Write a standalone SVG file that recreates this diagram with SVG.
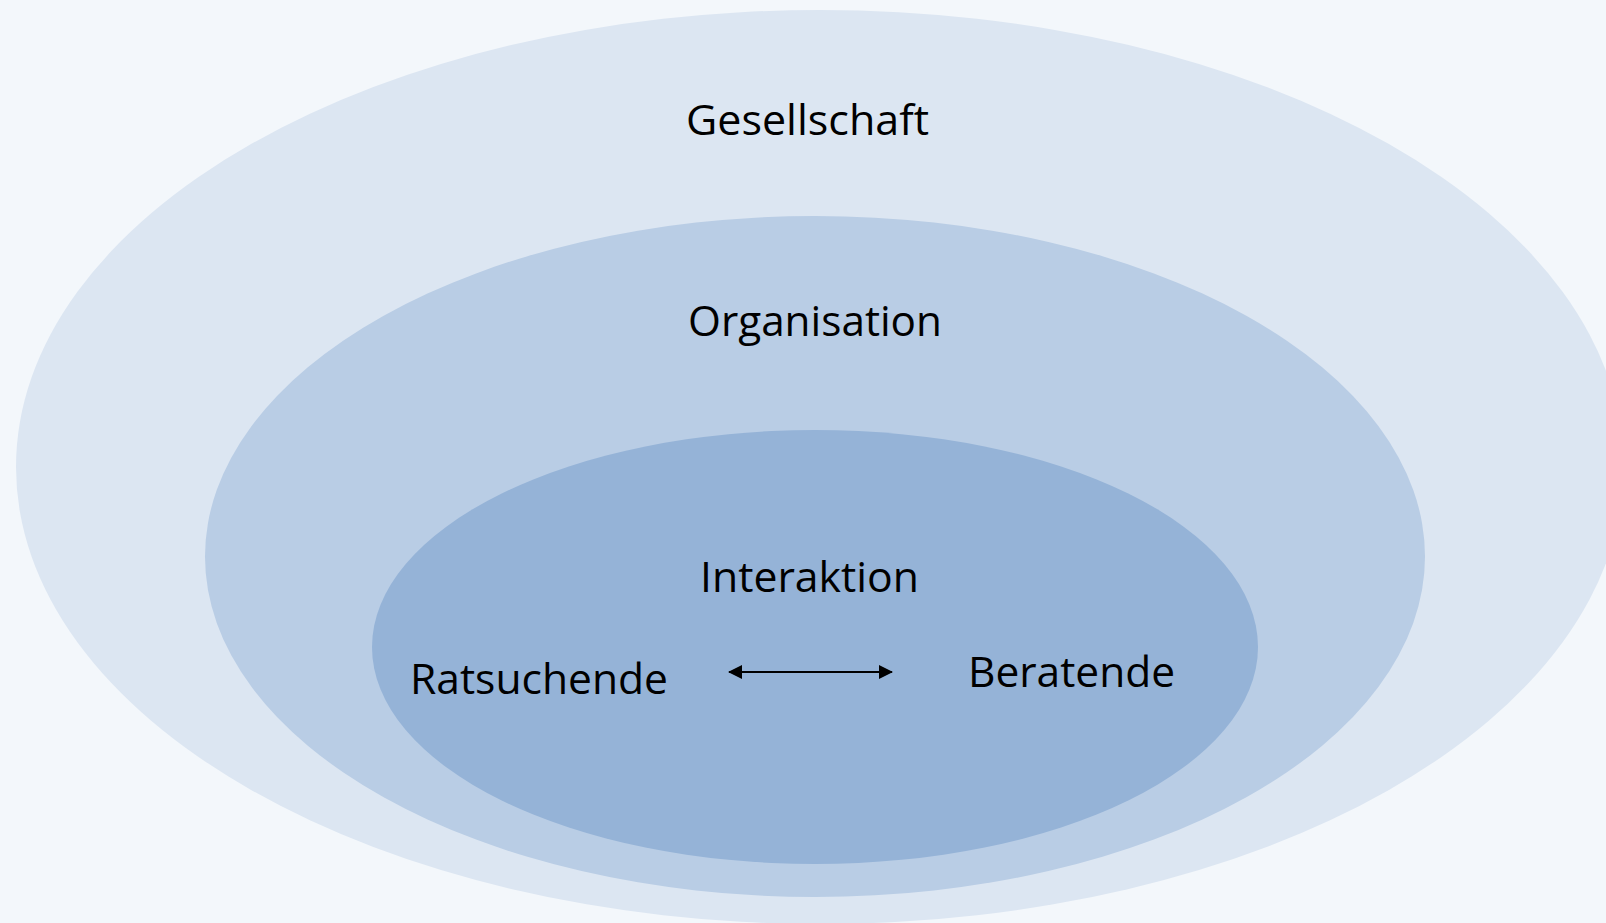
<svg xmlns="http://www.w3.org/2000/svg" width="1606" height="923" viewBox="0 0 1606 923">
  <style>
    .lbl { font-family: "Open Sans", "Noto Sans", "Liberation Sans", sans-serif; font-size: 42px; fill: #000000; }
    .conn { stroke: #000000; stroke-width: 2; fill: none; }
  </style>
  <defs>
    <marker id="arrow" viewBox="0 0 14 14" refX="13" refY="7" markerWidth="14" markerHeight="14" markerUnits="userSpaceOnUse" orient="auto-start-reverse">
      <path d="M0,0 L14,7 L0,14 z" fill="#000000"/>
    </marker>
  </defs>
  <rect x="0" y="0" width="1606" height="923" fill="#F3F7FB"/>
  <g id="gesellschaft">
    <ellipse cx="820" cy="467" rx="804" ry="457" fill="#DCE6F2"/>
    <text class="lbl" x="686" y="135" textLength="243" lengthAdjust="spacingAndGlyphs">Gesellschaft</text>
  </g>
  <g id="organisation">
    <ellipse cx="815" cy="556.5" rx="610" ry="340.5" fill="#B9CDE5"/>
    <text class="lbl" x="688" y="336" textLength="254" lengthAdjust="spacingAndGlyphs">Organisation</text>
  </g>
  <g id="interaktion">
    <ellipse cx="815" cy="647" rx="443" ry="217" fill="#95B3D7"/>
    <text class="lbl" x="700" y="592" textLength="219" lengthAdjust="spacingAndGlyphs">Interaktion</text>
  </g>
  <g id="ratsuchende">
    <text class="lbl" x="410" y="694" textLength="258" lengthAdjust="spacingAndGlyphs">Ratsuchende</text>
  </g>
  <g id="beratende">
    <text class="lbl" x="968" y="687" textLength="207" lengthAdjust="spacingAndGlyphs">Beratende</text>
  </g>
  <g id="connectors">
    <line class="conn" x1="729" y1="672" x2="892" y2="672" marker-start="url(#arrow)" marker-end="url(#arrow)"/>
  </g>
</svg>
